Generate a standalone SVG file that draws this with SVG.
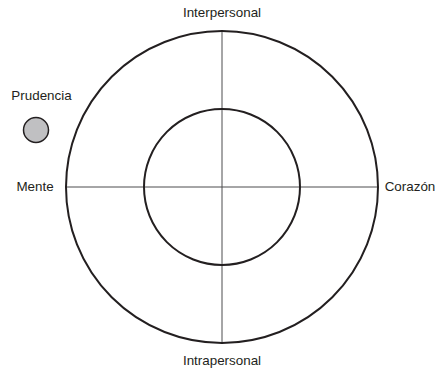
<svg xmlns="http://www.w3.org/2000/svg" width="445" height="368" viewBox="0 0 445 368">
<style>
text{font-family:"Liberation Sans",Arial,sans-serif;font-size:13.4px;fill:#231f20}
.ring{fill:none;stroke:#231f20;stroke-width:2}
.axis{stroke:#4d4d4f;stroke-width:1}
</style>
<rect width="445" height="368" fill="#fff"/>
<g id="connectors">
<line class="axis" x1="66" y1="187" x2="378" y2="187"/>
<line class="axis" x1="222" y1="31" x2="222" y2="343"/>
</g>
<g id="outer"><circle class="ring" cx="222" cy="187" r="156"/></g>
<g id="inner"><circle class="ring" cx="222" cy="187" r="78"/></g>
<g id="prudencia">
<circle cx="36" cy="130" r="12.5" fill="#c0c0c2" stroke="#231f20" stroke-width="1.5"/>
<text x="41.5" y="100" text-anchor="middle">Prudencia</text>
</g>
<g id="mente"><text x="35" y="191" text-anchor="middle">Mente</text></g>
<g id="corazon"><text x="410" y="191" text-anchor="middle">Corazón</text></g>
<g id="interpersonal"><text x="222" y="17" text-anchor="middle">Interpersonal</text></g>
<g id="intrapersonal"><text x="222" y="365" text-anchor="middle">Intrapersonal</text></g>
</svg>
